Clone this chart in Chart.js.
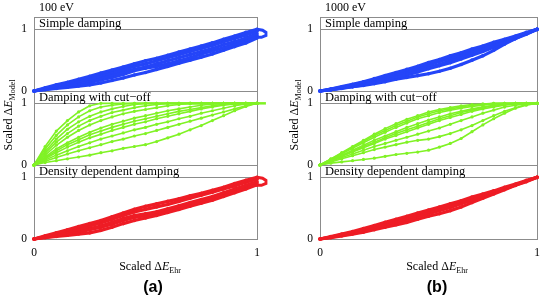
<!DOCTYPE html>
<html>
<head>
<meta charset="utf-8">
<script src="https://cdn.jsdelivr.net/npm/chart.js@4.4.1/dist/chart.umd.min.js"></script>
<style>
  body { margin: 0; background: #fff; }
  #wrap { position: relative; width: 547px; height: 296px; overflow: hidden;
          font-family: 'Liberation Serif', 'DejaVu Serif', serif; color: #000; }
  canvas { position: absolute; top: 0; }
  .lbl { position: absolute; font-size: 12px; line-height: 12px; white-space: nowrap; }
  .strip { position: absolute; font-size: 12.5px; line-height: 13px; white-space: nowrap; }
  .ytitle { position: absolute; font-size: 12px; line-height: 14px; white-space: nowrap;
            transform: translate(-50%, -50%) rotate(-90deg); }
  .xtitle { position: absolute; font-size: 12px; line-height: 14px; white-space: nowrap;
            transform: translate(-50%, -50%); }
  .tag { position: absolute; font-family: 'Liberation Sans', Arial, sans-serif; font-weight: bold;
         font-size: 16px; transform: translate(-50%, -50%); }
  sub { font-size: 8px; vertical-align: -3px; }
</style>
</head>
<body>
<div id="wrap">
  <canvas id="colA" width="286" height="296" style="left:0"></canvas>
  <canvas id="colB" width="261" height="296" style="left:286px"></canvas>

  <div class="lbl" style="left:39px;top:1px">100 eV</div>
  <div class="lbl" style="left:325px;top:1px">1000 eV</div>

  <div class="strip" style="left:39px;top:17px">Simple damping</div>
  <div class="strip" style="left:39px;top:91px">Damping with cut−off</div>
  <div class="strip" style="left:39px;top:165px">Density dependent damping</div>
  <div class="strip" style="left:325px;top:17px">Simple damping</div>
  <div class="strip" style="left:325px;top:91px">Damping with cut−off</div>
  <div class="strip" style="left:325px;top:165px">Density dependent damping</div>

  <div class="ytitle" style="left:10px;top:115px">Scaled Δ<i>E</i><sub>Model</sub></div>
  <div class="ytitle" style="left:296px;top:115px">Scaled Δ<i>E</i><sub>Model</sub></div>
  <div class="xtitle" style="left:150px;top:268px">Scaled Δ<i>E</i><sub>Ehr</sub></div>
  <div class="xtitle" style="left:437px;top:268px">Scaled Δ<i>E</i><sub>Ehr</sub></div>
  <div class="tag" style="left:153px;top:287px">(a)</div>
  <div class="tag" style="left:437px;top:287px">(b)</div>
</div>

<script>
// scaled Ehrenfest energy grid shared by all trajectories
var ehr = [0, 0.05, 0.1, 0.15, 0.2, 0.25, 0.3, 0.35, 0.4, 0.45, 0.5,
           0.55, 0.6, 0.65, 0.7, 0.75, 0.8, 0.85, 0.9, 0.95, 1];

// 100 eV - simple damping
var simple100 = [
  [0,0.05,0.1,0.14,0.19,0.24,0.29,0.34,0.39,0.44,0.49,0.53,0.58,0.63,0.68,0.73,0.78,0.84,0.89,0.95,1.0],
  [0,0.04,0.08,0.12,0.16,0.2,0.25,0.3,0.35,0.4,0.44,0.49,0.54,0.59,0.64,0.69,0.74,0.8,0.85,0.91,0.97],
  [0,0.03,0.06,0.09,0.13,0.17,0.21,0.26,0.31,0.35,0.39,0.44,0.49,0.54,0.59,0.64,0.69,0.75,0.8,0.86,0.93],
  [0,0.03,0.05,0.08,0.11,0.14,0.18,0.22,0.27,0.33,0.37,0.4,0.44,0.49,0.54,0.6,0.65,0.7,0.76,0.82,0.9],
  [0,0.02,0.04,0.06,0.08,0.1,0.13,0.17,0.21,0.26,0.3,0.35,0.4,0.45,0.5,0.55,0.6,0.66,0.72,0.78,0.86]
];
// 100 eV - damping with cut-off
var cutoff100 = [
  [0,0.3,0.55,0.72,0.86,0.96,1,1,1,1,1,1,1,1,1,1,1,1,1,1,1],
  [0,0.26,0.48,0.65,0.78,0.88,0.94,0.97,0.99,1,1,1,1,1,1,1,1,1,1,1,1],
  [0,0.22,0.42,0.58,0.7,0.79,0.86,0.91,0.95,0.98,1,1,1,1,1,1,1,1,1,1,1],
  [0,0.19,0.37,0.51,0.63,0.72,0.79,0.85,0.89,0.93,0.96,0.98,1,1,1,1,1,1,1,1,1],
  [0,0.16,0.32,0.45,0.56,0.65,0.72,0.78,0.83,0.87,0.9,0.93,0.96,0.98,1,1,1,1,1,1,1],
  [0,0.13,0.26,0.36,0.45,0.53,0.6,0.66,0.71,0.76,0.8,0.84,0.88,0.91,0.94,0.97,0.99,1,1,1,1],
  [0,0.11,0.23,0.33,0.41,0.49,0.55,0.61,0.66,0.71,0.75,0.79,0.83,0.87,0.9,0.93,0.96,0.98,1,1,1],
  [0,0.1,0.2,0.29,0.37,0.44,0.5,0.56,0.61,0.66,0.7,0.75,0.79,0.83,0.87,0.91,0.94,0.97,0.99,1,1],
  [0,0.08,0.16,0.23,0.3,0.36,0.42,0.47,0.52,0.57,0.61,0.66,0.7,0.75,0.79,0.84,0.88,0.92,0.96,0.99,1],
  [0,0.06,0.12,0.18,0.23,0.28,0.33,0.38,0.42,0.47,0.51,0.56,0.61,0.66,0.71,0.76,0.81,0.86,0.91,0.96,1],
  [0,0.04,0.07,0.1,0.13,0.16,0.2,0.23,0.27,0.3,0.33,0.38,0.44,0.5,0.57,0.64,0.72,0.8,0.88,0.95,1]
];
// 100 eV - density dependent damping
var density100 = [
  [0,0.05,0.1,0.15,0.2,0.25,0.3,0.36,0.42,0.48,0.53,0.57,0.61,0.65,0.7,0.74,0.79,0.84,0.9,0.95,1.0],
  [0,0.04,0.08,0.12,0.16,0.21,0.26,0.32,0.38,0.44,0.48,0.52,0.56,0.61,0.66,0.71,0.76,0.81,0.86,0.92,0.97],
  [0,0.03,0.06,0.09,0.13,0.17,0.21,0.27,0.33,0.38,0.41,0.44,0.49,0.54,0.59,0.64,0.69,0.75,0.81,0.87,0.93],
  [0,0.03,0.05,0.08,0.11,0.15,0.19,0.24,0.3,0.35,0.38,0.42,0.46,0.51,0.56,0.61,0.66,0.72,0.78,0.84,0.91],
  [0,0.02,0.04,0.06,0.08,0.1,0.14,0.19,0.25,0.3,0.34,0.38,0.43,0.48,0.53,0.58,0.63,0.69,0.75,0.81,0.88]
];
// overshoot loops at the end of the 100 eV runs
var loopX = [1.0, 1.025, 1.04, 1.04, 1.02, 0.99, 0.97];
var loopY = [1.0, 0.985, 0.95, 0.9, 0.87, 0.87, 0.89];
var cutTailX = [1.0, 1.04];
var cutTailY = [1.0, 1.0];

// 1000 eV
var simple1000 = [
  [0,0.03,0.07,0.11,0.15,0.2,0.25,0.3,0.35,0.4,0.46,0.51,0.57,0.62,0.68,0.73,0.79,0.84,0.89,0.95,1],
  [0,0.03,0.06,0.1,0.14,0.18,0.22,0.27,0.32,0.37,0.42,0.48,0.53,0.59,0.65,0.71,0.77,0.83,0.88,0.94,1],
  [0,0.02,0.05,0.08,0.11,0.15,0.19,0.23,0.28,0.33,0.38,0.43,0.49,0.55,0.61,0.67,0.74,0.8,0.87,0.93,1],
  [0,0.02,0.05,0.07,0.1,0.13,0.17,0.21,0.26,0.31,0.36,0.41,0.46,0.52,0.58,0.64,0.71,0.78,0.85,0.92,1],
  [0,0.02,0.04,0.07,0.09,0.12,0.15,0.19,0.22,0.25,0.28,0.32,0.37,0.43,0.5,0.57,0.66,0.76,0.85,0.93,1]
];
var cutoff1000 = [
  [0,0.1,0.2,0.3,0.4,0.5,0.59,0.67,0.74,0.8,0.86,0.9,0.93,0.96,0.98,0.99,1,1,1,1,1],
  [0,0.095,0.19,0.29,0.38,0.48,0.56,0.64,0.71,0.78,0.83,0.88,0.91,0.94,0.97,0.98,1,1,1,1,1],
  [0,0.09,0.18,0.27,0.36,0.45,0.53,0.61,0.68,0.75,0.8,0.85,0.89,0.92,0.95,0.97,0.99,1,1,1,1],
  [0,0.08,0.16,0.24,0.32,0.4,0.47,0.54,0.61,0.67,0.73,0.78,0.83,0.87,0.91,0.94,0.97,0.99,1,1,1],
  [0,0.075,0.15,0.22,0.3,0.37,0.44,0.51,0.57,0.63,0.69,0.75,0.8,0.85,0.89,0.93,0.96,0.98,1,1,1],
  [0,0.07,0.14,0.21,0.28,0.35,0.42,0.48,0.54,0.6,0.66,0.72,0.77,0.82,0.87,0.91,0.94,0.97,0.99,1,1],
  [0,0.06,0.12,0.18,0.24,0.3,0.35,0.4,0.45,0.5,0.55,0.6,0.66,0.72,0.78,0.84,0.89,0.94,0.97,0.99,1],
  [0,0.05,0.1,0.15,0.2,0.25,0.29,0.33,0.37,0.4,0.42,0.46,0.51,0.57,0.64,0.72,0.8,0.87,0.93,0.98,1],
  [0,0.03,0.05,0.07,0.09,0.11,0.14,0.17,0.19,0.21,0.24,0.29,0.35,0.43,0.54,0.65,0.75,0.84,0.92,0.97,1]
];
var density1000 = [
  [0,0.04,0.08,0.12,0.17,0.22,0.27,0.32,0.37,0.42,0.47,0.52,0.57,0.62,0.68,0.73,0.78,0.84,0.89,0.95,1],
  [0,0.03,0.07,0.11,0.15,0.19,0.24,0.29,0.34,0.39,0.44,0.49,0.54,0.6,0.65,0.71,0.77,0.82,0.88,0.94,1],
  [0,0.03,0.06,0.09,0.13,0.17,0.21,0.26,0.31,0.36,0.41,0.46,0.51,0.57,0.63,0.69,0.75,0.81,0.87,0.94,1],
  [0,0.02,0.05,0.08,0.11,0.15,0.19,0.23,0.27,0.32,0.37,0.41,0.46,0.52,0.59,0.66,0.73,0.8,0.87,0.93,1]
];

var tickVals = [0, 1];
var BLUE = '#2445f8', GREEN = '#80f225', RED = '#ee1c25';

Chart.defaults.font.family = "'Liberation Serif', 'DejaVu Serif', serif";
Chart.defaults.color = '#000';

var toPoints = function(xs, ys) {
  return xs.map(function(x, i) { return { x: x, y: ys[i] }; });
};

// thick = solid-looking band (simple / density), thin = dotted fan (cut-off)
var curveSets = function(curves, color, axis, width, radius) {
  return curves.map(function(c) {
    return {
      data: toPoints(ehr, c), yAxisID: axis, showLine: true,
      borderColor: color, borderWidth: width, backgroundColor: color,
      pointRadius: radius, pointBorderWidth: 0, pointBackgroundColor: color, clip: false
    };
  });
};

var tailSet = function(xs, ys, color, axis, width) {
  return {
    data: toPoints(xs, ys), yAxisID: axis, showLine: true,
    borderColor: color, borderWidth: width, pointRadius: 1.5, pointBorderWidth: 0,
    pointBackgroundColor: color, clip: false
  };
};

// frames around each panel plus the line under the label strip
var panelFrames = {
  id: 'panelFrames',
  beforeDatasetsDraw: function(chart) {
    var ctx = chart.ctx, a = chart.chartArea;
    ctx.save();
    ctx.strokeStyle = '#8c8c8c';
    ctx.lineWidth = 1;
    ['yBot', 'yMid', 'yTop'].forEach(function(id) {
      var s = chart.scales[id];
      var l = Math.round(a.left) + 0.5, r = Math.round(a.right) + 0.5;
      var t = Math.round(s.top) + 0.5, b = Math.round(s.bottom) + 0.5;
      var one = Math.round(s.getPixelForValue(1)) + 0.5;
      ctx.strokeRect(l, t, r - l, b - t);
      ctx.beginPath();
      ctx.moveTo(l, one);
      ctx.lineTo(r, one);
      ctx.stroke();
    });
    ctx.restore();
  }
};

var yAxis = function() {
  return {
    type: 'linear', position: 'left', stack: 'col', stackWeight: 1,
    min: 0, max: 1.2,
    grid: { display: false, drawTicks: false },
    border: { display: false },
    ticks: { font: { size: 11.5 }, padding: 7 },
    afterBuildTicks: function(s) { s.ticks = tickVals.map(function(v) { return { value: v }; }); },
    afterFit: function(s) { s.width = 34; }
  };
};

var makeChart = function(id, simple, cutoff, density, rightPad, withLoops) {
  var sets = []
    .concat(curveSets(simple, BLUE, 'yTop', 3.2, 1.8))
    .concat(curveSets(cutoff, GREEN, 'yMid', 1.6, 1.6))
    .concat(curveSets(density, RED, 'yBot', 3.2, 1.8));
  if (withLoops) {
    sets.push(tailSet(loopX, loopY, BLUE, 'yTop', 3));
    sets.push(tailSet(cutTailX, cutTailY, GREEN, 'yMid', 2.5));
    sets.push(tailSet(loopX, loopY, RED, 'yBot', 3));
  }
  return new Chart(document.getElementById(id).getContext('2d'), {
    type: 'scatter',
    data: { datasets: sets },
    options: {
      responsive: false,
      animation: false,
      events: [],
      layout: { padding: { left: 0, top: 17, right: rightPad, bottom: 37 } },
      plugins: { legend: { display: false }, tooltip: { enabled: false } },
      scales: {
        x: {
          type: 'linear', min: 0, max: 1,
          grid: { display: false, drawTicks: false },
          border: { display: false },
          ticks: { font: { size: 11.5 }, padding: 7 },
          afterBuildTicks: function(s) { s.ticks = tickVals.map(function(v) { return { value: v }; }); },
          afterFit: function(s) { s.height = 20; }
        },
        yBot: yAxis(),
        yMid: yAxis(),
        yTop: yAxis()
      }
    },
    plugins: [panelFrames]
  });
};

makeChart('colA', simple100, cutoff100, density100, 29, true);
makeChart('colB', simple1000, cutoff1000, density1000, 3, false);
</script>
</body>
</html>
